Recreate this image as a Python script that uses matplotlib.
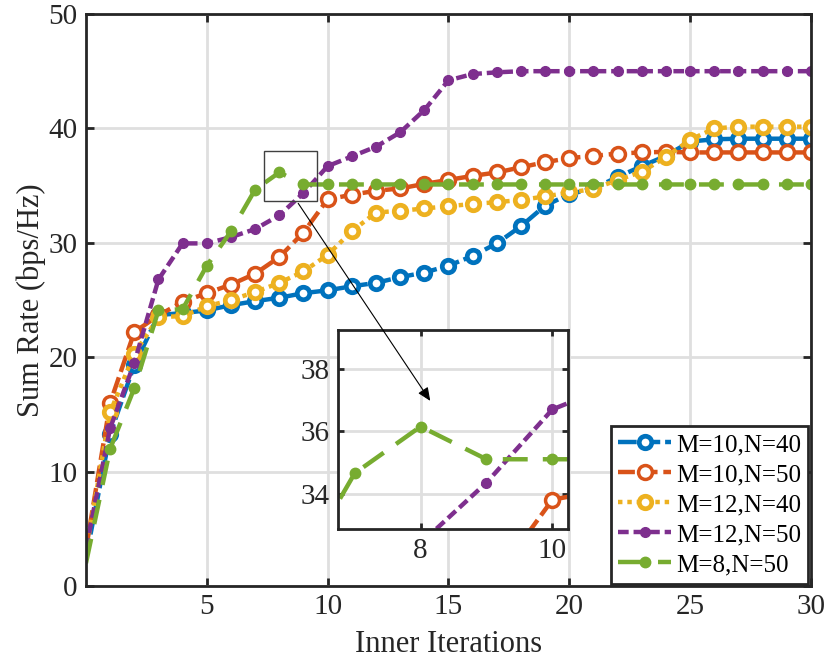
import matplotlib
matplotlib.use("Agg")
import matplotlib.pyplot as plt
import matplotlib.patches as patches
import numpy as np

plt.rcParams['font.family'] = ['Liberation Serif', 'DejaVu Serif']

iteraciones = list(range(0, 31))

m10_n40 = [2.5, 13.3, 19.3, 23.7, 23.85, 24.1, 24.55, 24.9, 25.2, 25.6, 25.85,
           26.2, 26.5, 27.0, 27.4, 28.0, 28.85, 29.95, 31.45, 33.25, 34.25,
           34.75, 35.75, 36.7, 37.6, 38.85, 39.05, 39.1, 39.1, 39.1, 39.1]
m10_n50 = [3.2, 16.0, 22.2, 23.65, 24.85, 25.6, 26.35, 27.3, 28.75, 30.9, 33.8,
           34.2, 34.55, 34.75, 35.15, 35.5, 35.85, 36.15, 36.6, 37.05, 37.4,
           37.6, 37.8, 37.9, 37.95, 37.9, 37.9, 37.9, 37.9, 37.9, 37.9]
m12_n40 = [3.0, 15.2, 20.3, 23.5, 23.6, 24.45, 25.0, 25.7, 26.5, 27.5, 28.95,
           31.0, 32.65, 32.8, 33.0, 33.2, 33.4, 33.55, 33.75, 34.05, 34.4,
           34.7, 35.5, 36.2, 37.5, 39.0, 40.0, 40.15, 40.15, 40.15, 40.15]
m12_n50 = [3.3, 13.8, 19.5, 26.8, 29.95, 29.95, 30.5, 31.2, 32.4, 34.35, 36.7,
           37.55, 38.4, 39.65, 41.6, 44.2, 44.75, 44.9, 45.0, 45.0, 45.0,
           45.0, 45.0, 45.0, 45.0, 45.0, 45.0, 45.0, 45.0, 45.0, 45.0]
m8_n50 = [2.0, 12.0, 17.3, 24.1, 24.2, 28.0, 31.0, 34.65, 36.15, 35.1, 35.1,
          35.1, 35.1, 35.1, 35.1, 35.1, 35.1, 35.1, 35.1, 35.1, 35.1,
          35.1, 35.1, 35.1, 35.1, 35.1, 35.1, 35.1, 35.1, 35.1, 35.1]

etiquetas = ['M=10,N=40', 'M=10,N=50', 'M=12,N=40', 'M=12,N=50', 'M=8,N=50']
series = [m10_n40, m10_n50, m12_n40, m12_n50, m8_n50]

# estilos tipo MATLAB
estilos = [
    dict(color='#0072BD', ls=(0, (4.2, 1.1)), marker='o', ms=9, mew=3.4, mfc='white'),
    dict(color='#D95319', ls=(0, (3.8, 1.3)), marker='o', ms=10, mew=2.5, mfc='white'),
    dict(color='#EDB120', ls=(0, (1.0, 1.1)), marker='o', ms=9, mew=3.4, mfc='white'),
    dict(color='#7E2F8E', ls=(0, (2.4, 1.1)), marker='o', ms=7, mew=1, mfc='#7E2F8E'),
    dict(color='#77AC30', ls=(0, (5.6, 3.4)), marker='o', ms=7.5, mew=1, mfc='#77AC30'),
]


def dibujar(ax, con_etiqueta=True):
    for datos, est, lab in zip(series, estilos, etiquetas):
        ax.plot(iteraciones, datos, color=est['color'], linestyle=est['ls'],
                linewidth=3.2, marker=est['marker'], markersize=est['ms'],
                markeredgewidth=est['mew'], markerfacecolor=est['mfc'],
                markeredgecolor=est['color'], markevery=list(range(1, 31)),
                label=lab if con_etiqueta else None)


def estilo_ejes(ax, tam=21):
    ax.grid(True, color='#dfdfdf', linewidth=2)
    ax.set_axisbelow(True)
    ax.tick_params(direction='in', length=6, width=2, top=True, right=True,
                   labelsize=tam, colors='#262626', labelcolor='#262626', pad=6)
    for s in ax.spines.values():
        s.set_linewidth(2)
        s.set_color('#262626')


fig = plt.figure(figsize=(8.29, 6.66), dpi=100)
ax = fig.add_axes([0.1037, 0.12, 0.8745, 0.859])
dibujar(ax)
ax.set_xlim(0, 30)
ax.set_ylim(0, 50)
ax.set_xticks([5, 10, 15, 20, 25, 30])
ax.set_yticks([0, 10, 20, 30, 40, 50])
estilo_ejes(ax)
ax.set_xlabel('Inner Iterations', fontsize=22, color='#262626', labelpad=7)
ax.set_ylabel('Sum Rate (bps/Hz)', fontsize=22, color='#262626', labelpad=2)

leg = ax.legend(loc='lower right', fontsize=18, frameon=True, fancybox=False,
                borderaxespad=0.1, handlelength=2.1, handletextpad=0.2,
                labelspacing=0.3, borderpad=0.3)
leg.get_frame().set_edgecolor('#262626')
leg.get_frame().set_linewidth(2)
leg.get_frame().set_alpha(1)
leg.set_zorder(10)

# rectangulo de zoom
rect = patches.Rectangle((7.38, 33.65), 2.19, 4.4, fill=False,
                         edgecolor='#404040', linewidth=1, zorder=6)
ax.add_patch(rect)

# inset
ax_in = fig.add_axes([0.408, 0.2052, 0.2774, 0.2993])
dibujar(ax_in, con_etiqueta=False)
ax_in.set_xlim(6.75, 10.24)
ax_in.set_ylim(32.85, 39.25)
ax_in.set_xticks([8, 10])
ax_in.set_yticks([34, 36, 38])
estilo_ejes(ax_in)
ax_in.tick_params(length=4)

ax_in.annotate('', xy=(8.17, 36.9), xycoords='data',
               xytext=(8.72, 33.65), textcoords=ax.transData,
               arrowprops=dict(arrowstyle='-|>,head_length=0.8,head_width=0.35',
                               color='black', lw=0.8),
               annotation_clip=False)

fig.savefig('out.png', dpi=100)
